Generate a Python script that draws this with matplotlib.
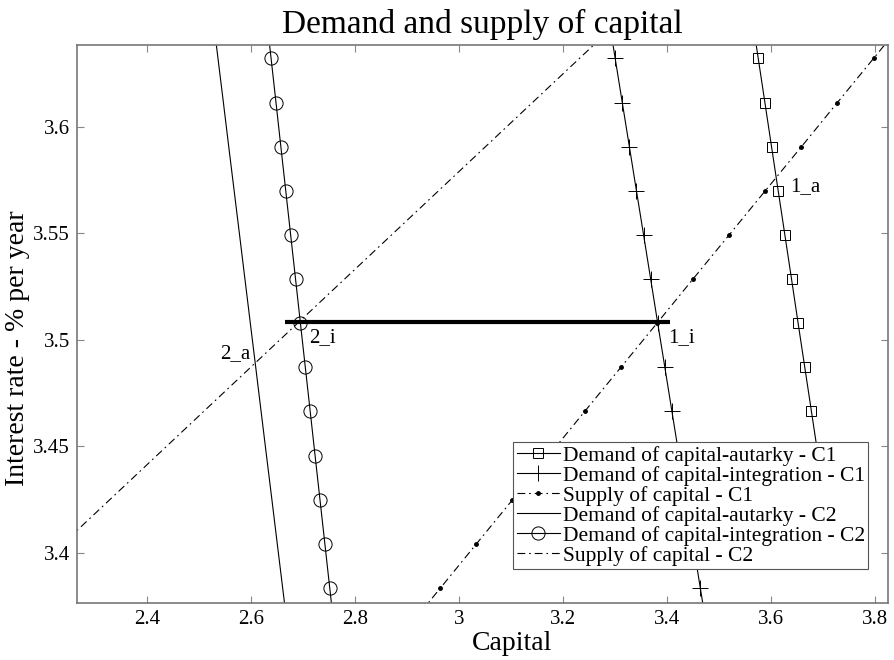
import numpy as np
import matplotlib
matplotlib.use('Agg')
import matplotlib.pyplot as plt

plt.rcParams['font.family'] = ['Liberation Serif', 'DejaVu Serif']

# interest rate grid shared by all curves (% per year)
rate = [3.6528, 3.6321, 3.6114, 3.5906, 3.5699, 3.5492, 3.5285, 3.5077,
        3.4870, 3.4663, 3.4455, 3.4248, 3.4041, 3.3833, 3.3626]

# capital demanded / supplied at each rate
# (C1 autarky demand only computed down to 3.4455)
demand_aut_c1 = [3.5622, 3.5750, 3.5878, 3.6006, 3.6134, 3.6262, 3.6390, 3.6517,
                 3.6645, 3.6773, 3.6901]
demand_int_c1 = [3.2864, 3.3000, 3.3136, 3.3273, 3.3409, 3.3546, 3.3682, 3.3818,
                 3.3955, 3.4091, 3.4228, 3.4364, 3.4500, 3.4637, 3.4773]
supply_c1 = [3.8661, 3.7967, 3.7273, 3.6579, 3.5884, 3.5190, 3.4496, 3.3802,
             3.3108, 3.2413, 3.1719, 3.1025, 3.0331, 2.9637, 2.8942]
demand_aut_c2 = [2.5260, 2.5364, 2.5468, 2.5571, 2.5675, 2.5779, 2.5882, 2.5986,
                 2.6090, 2.6193, 2.6297, 2.6401, 2.6504, 2.6608, 2.6712]
demand_int_c2 = [2.6291, 2.6385, 2.6479, 2.6573, 2.6667, 2.6761, 2.6855, 2.6949,
                 2.7043, 2.7137, 2.7231, 2.7325, 2.7419, 2.7513, 2.7607]
supply_c2 = [3.3214, 3.2312, 3.1410, 3.0504, 2.9602, 2.8700, 2.7798, 2.6892,
             2.5990, 2.5088, 2.4182, 2.3280, 2.2378, 2.1472, 2.0570]

# world rate under integration and the capital flow it implies
flow_capital = [2.665, 3.405]
flow_rate = [3.5082, 3.5082]

# equilibrium point labels
point_names = ['1_a', '2_a', '1_i', '2_i']
point_capital = [3.6365, 2.5404, 3.4025, 2.7121]
point_rate = [3.5718, 3.4936, 3.5011, 3.5011]

fig = plt.figure(figsize=(8.94, 6.6), dpi=100)
ax = fig.add_axes([0.0858, 0.0868, 0.9078, 0.8450])

lw = 0.8
dashdot = (0, (7, 3.5, 1.5, 3.5))
ax.plot(demand_aut_c1, rate[:len(demand_aut_c1)], '-', color='k', lw=lw,
        marker='s', ms=7, mfc='none', mec='k', mew=0.7,
        label='Demand of capital-autarky - C1')
ax.plot(demand_int_c1, rate, '-', color='k', lw=lw, marker='+', ms=11, mew=0.7,
        label='Demand of capital-integration - C1')
ax.plot(supply_c1, rate, linestyle=dashdot, color='k', lw=lw, marker='.', ms=5,
        label='Supply of capital - C1')
ax.plot(demand_aut_c2, rate, '-', color='k', lw=lw,
        label='Demand of capital-autarky - C2')
ax.plot(demand_int_c2, rate, '-', color='k', lw=lw, marker='o', ms=9.5, mfc='none',
        mec='k', mew=0.7, label='Demand of capital-integration - C2')
ax.plot(supply_c2, rate, linestyle=dashdot, color='k', lw=lw,
        label='Supply of capital - C2')

ax.plot(flow_capital, flow_rate, '-', color='k', lw=3, solid_capstyle='butt')

for name, k, r in zip(point_names, point_capital, point_rate):
    ax.text(k, r, name, fontsize=15, ha='left', va='center')

ax.set_xlim(2.2648, 3.8250)
ax.set_ylim(3.3765, 3.6384)
ax.set_xticks([2.4, 2.6, 2.8, 3.0, 3.2, 3.4, 3.6, 3.8])
ax.set_xticklabels(['2.4', '2.6', '2.8', '3', '3.2', '3.4', '3.6', '3.8'])
ax.set_yticks([3.4, 3.45, 3.5, 3.55, 3.6])
ax.set_yticklabels(['3.4', '3.45', '3.5', '3.55', '3.6'])
ax.tick_params(direction='in', length=5, width=0.8, color='#888888',
               top=True, right=True, labelsize=15, pad=5)
for sp in ax.spines.values():
    sp.set_color('#777777')
    sp.set_linewidth(1.2)

ax.set_title('Demand and supply of capital', fontsize=24, pad=9)
ax.set_xlabel('Capital', fontsize=20)
ax.xaxis.set_label_coords(0.536, -0.050)
ax.set_ylabel('Interest rate - % per year', fontsize=20)
ax.yaxis.set_label_coords(-0.058, 0.457)

leg = ax.legend(loc='upper left', bbox_to_anchor=(0.538, 0.2876), borderaxespad=0,
                fontsize=15.5, frameon=True, fancybox=False, framealpha=1,
                edgecolor='#555555', handlelength=2.0, handletextpad=0.15,
                labelspacing=0.0, borderpad=0.15, numpoints=1)
leg.get_frame().set_linewidth(0.8)

fig.savefig('out.png', dpi=100)
